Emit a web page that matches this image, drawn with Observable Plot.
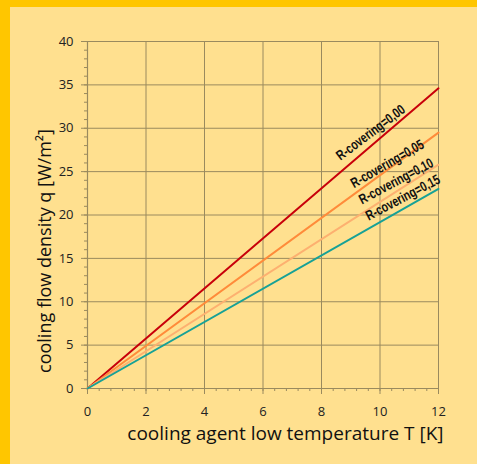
<!DOCTYPE html>
<html>
<head>
<meta charset="utf-8">
<script src="https://cdn.jsdelivr.net/npm/d3@7"></script>
<script src="https://cdn.jsdelivr.net/npm/@observablehq/plot@0.6"></script>
<style>
  html, body { margin: 0; padding: 0; background: #FFC600; width: 477px; height: 464px; overflow: hidden; }
  #chart { position: absolute; left: 10px; top: 7px; width: 467px; height: 457px; background: #FFE08F; }
  #chart svg { background: #FFE08F; display: block; }
</style>
</head>
<body>
<div id="chart"></div>
<script>
// Data
const seriesNames = ["R-covering=0,00", "R-covering=0,05", "R-covering=0,10", "R-covering=0,15"];
const seriesColors = ["#C8000A", "#FF8B3A", "#FDB070", "#17A196"];
const tValues = [0, 12];
const q000 = [0, 34.6];
const q005 = [0, 29.5];
const q010 = [0, 25.8];
const q015 = [0, 23.0];
const labelT = [9.68, 10.25, 10.55, 10.78];
const labelQ = [29.5, 25.9, 23.9, 22.0];
const labelAngle = [-37, -30, -28, -28];
const xTickLabels = [0, 2, 4, 6, 8, 10, 12];
const xMinorTicks = d3.range(0, 12.001, 0.4);
const yTickLabels = [0, 5, 10, 15, 20, 25, 30, 35, 40];
const yMinorTicks = d3.range(0, 41, 1);
const xTitle = "cooling agent low temperature T [K]";
const yTitle = "cooling flow density q [W/m²]";

const seriesQ = [q000, q005, q010, q015];
const lineData = seriesNames.flatMap((name, i) =>
  tValues.map((t, j) => ({series: name, T: t, q: seriesQ[i][j]})));
const labelData = seriesNames.map((name, i) => ({series: name, T: labelT[i], q: labelQ[i], a: labelAngle[i]}));

const gridColor = "#9A8A5E";

const chart = Plot.plot({
  width: 467,
  height: 457,
  marginLeft: 77,
  marginRight: 39,
  marginTop: 34,
  marginBottom: 76,
  style: {background: "#FFE08F", fontFamily: "'Open Sans', 'Noto Sans', sans-serif", color: "#222"},
  x: {domain: [0, 12]},
  y: {domain: [0, 40]},
  color: {domain: seriesNames, range: seriesColors},
  marks: [
    Plot.gridX(xTickLabels, {stroke: gridColor, strokeOpacity: 1, strokeWidth: 1}),
    Plot.gridY(yTickLabels, {stroke: gridColor, strokeOpacity: 1, strokeWidth: 1}),
    Plot.axisX(xMinorTicks, {tickSize: 3, text: null, stroke: gridColor, label: null}),
    Plot.axisX(xTickLabels, {tickSize: 6, stroke: gridColor, fontSize: 13, tickPadding: 12, label: null, fill: "#222"}),
    Plot.axisY(yMinorTicks, {tickSize: 3, text: null, stroke: gridColor, label: null}),
    Plot.axisY(yTickLabels, {tickSize: 6, stroke: gridColor, fontSize: 13, tickPadding: 8, label: null, fill: "#222"}),
    Plot.ruleX([0], {stroke: gridColor, strokeWidth: 1.2}),
    Plot.ruleY([0], {stroke: gridColor, strokeWidth: 1.2}),
    Plot.line(lineData, {x: "T", y: "q", z: "series", stroke: "series", strokeWidth: 2}),
    ...labelData.map(d => Plot.text([d], {x: "T", y: "q", text: "series", rotate: d.a, fontWeight: "bold",
      fontSize: 14, fontFamily: "'Liberation Sans', sans-serif", fill: "#111"})),
    Plot.text([xTitle], {frameAnchor: "bottom-right", dx: 5, dy: 45, textAnchor: "end",
      lineAnchor: "middle", fontSize: 19, fill: "#111"}),
    Plot.text([yTitle], {frameAnchor: "left", dx: -42, dy: 36, rotate: -90, textAnchor: "middle",
      lineAnchor: "middle", fontSize: 18, fill: "#111"})
  ]
});
// condense the curve labels to the narrow look of the original
d3.select(chart).selectAll("text")
  .filter(function() { return seriesNames.includes(this.textContent); })
  .attr("textLength", 82)
  .attr("lengthAdjust", "spacingAndGlyphs");
document.getElementById("chart").appendChild(chart);
</script>
</body>
</html>
